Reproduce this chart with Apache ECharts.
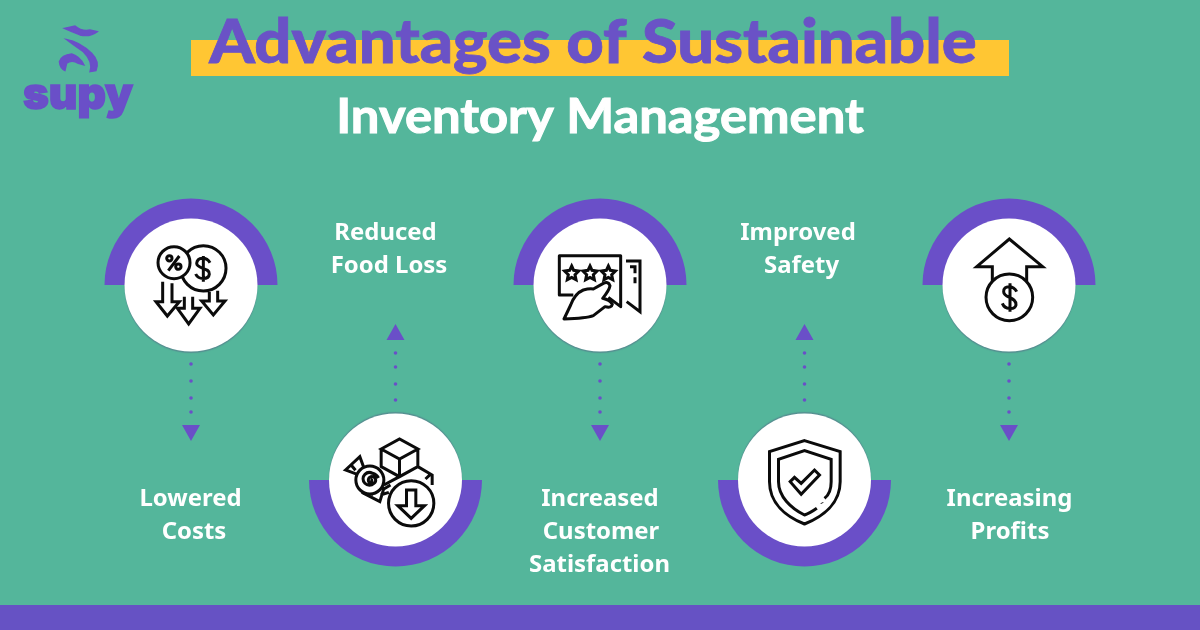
<!DOCTYPE html>
<html>
<head>
<meta charset="utf-8">
<title>Advantages of Sustainable Inventory Management</title>
<script src="https://cdn.jsdelivr.net/npm/echarts@6/dist/echarts.min.js"></script>
<style>
  html, body { margin: 0; padding: 0; background: #54b69b; }
  #main { width: 1200px; height: 630px; }
</style>
</head>
<body>
<div id="main"></div>
<script>
// data
const steps = ["Lowered Costs", "Reduced Food Loss", "Increased Customer Satisfaction", "Improved Safety", "Increasing Profits"];
const stepLevel = [1, 0, 1, 0, 1]; // 1 = top row, 0 = bottom row
const stepLines = [
  ["Lowered", "Costs"],
  ["Reduced", "Food Loss"],
  ["Increased", "Customer", "Satisfaction"],
  ["Improved", "Safety"],
  ["Increasing", "Profits"]
];
const titleLines = ["Advantages of Sustainable", "Inventory Management"];
const logoText = "supy";

// colours
const BG = "#54b69b";
const PURPLE = "#6a4fc8";
const YELLOW = "#ffc633";
const INK = "#0b0b0b";

// layout: the text lines are not quite centred under the discs in the original
const labelShift = [[-0.5, 3], [-10, -6.5], [0, 1, -0.5], [-6.5, -3], [0.5, 1]];

// icons are drawn at 3x around the hub centre
const icons = [
  { ox: 123, oy: 135, parts: [
    { d: "M160 17a68 68 0 1 0 0.1 0Z", fill: "#fff" },
    { d: "M72 20a48 48 0 1 0 0.1 0Z", fill: "#fff" },
    { d: "M88 48L55 92M58 47a8 8 0 1 0 0.1 0ZM85 72a8 8 0 1 0 0.1 0Z" },
    { d: "M180 68C170 50 142 50 140 70C140 88 180 82 178 102C176 120 145 120 137 102M160 48V125" },
    { d: "M178 155V183H155L190 225L225 183H203V152", fill: "#fff" },
    { d: "M38 125V185H18L52 228L88 185H66V130", fill: "#fff" },
    { d: "M103 170V205H82L116 252L150 205H128V170", fill: "#fff" }
  ]},
  { ox: 165, oy: 135, parts: [
    { d: "M122 42L177 12L232 42L177 72ZM122 42V95L177 125L232 95V42M177 72V125M232 95L275 120V150M255 132L272 116M122 95L177 125L130 150" },
    { d: "M15 105L58 65L70 98L50 118ZM30 88L45 106M70 175L118 200L130 160L105 150ZM92 180L108 165M125 165L150 150M120 180L145 172", fill: "#fff" },
    { d: "M88 93a42 42 0 1 0 0.1 0Z", fill: "#fff" },
    { d: "M90 133a5 5 0 1 1 -6 6a11 11 0 1 1 16 6a19 19 0 1 1 -4 -30a27 27 0 0 1 18 14" },
    { d: "M212 137a68 68 0 1 0 0.1 0Z", fill: "#fff" },
    { d: "M198 165H226V212H252L212 250L172 212H198Z", fill: "#fff" }
  ]},
  { ox: 150, oy: 120, parts: [
    { d: "M228 48H270V200L230 170M240 65H255V85M255 97V115" },
    { d: "M70 150H28V32H212V185L175 157", fill: "#fff", join: "round" },
    { d: "M65 63L71 76L86 78L75 89L78 104L65 97L52 104L55 89L44 78L59 76Z" },
    { d: "M120 63L126 76L141 78L130 89L133 104L120 97L107 104L110 89L99 78L114 76Z" },
    { d: "M175 63L181 76L196 78L185 89L188 104L175 97L162 104L165 89L154 78L169 76Z" },
    { d: "M42 222L62 180Q75 145 100 135Q118 130 130 132L160 115Q175 108 180 122Q178 135 158 160Q180 165 187 178Q185 190 165 185L130 212Q110 220 42 222Z", fill: "#fff", join: "round" }
  ]},
  { ox: 285, oy: 240, parts: [
    { d: "M285 122L392 155V245C392 310 340 350 285 372C230 350 180 310 180 245V155Z" },
    { d: "M345 295C358 285 365 265 365 245V178L285 152L207 178V245C207 290 245 325 285 345C300 340 312 332 322 325M337 308L338 310" },
    { d: "M275 283L242 245L255 232L275 250L315 210L330 225Z" }
  ]},
  { ox: 282, oy: 285, parts: [
    { d: "M232 275V230H185L283 147L383 230H335V280" },
    { d: "M283 252a70 70 0 1 0 0.1 0Z", fill: "#fff" },
    { d: "M305 305C295 285 265 285 266 305C266 325 305 320 303 345C300 360 270 360 262 340M285 280V365" }
  ]}
];

const logoMark = "M193 85L225 78Q245 95 270 90L292 95Q270 112 240 105Q215 95 193 85Z"
  + "M198 118Q240 125 275 160Q300 185 288 212L270 215Q280 185 250 155Q220 135 198 118Z"
  + "M178 185Q185 165 215 162Q240 170 252 195L235 190Q215 178 200 190L195 212Q180 205 178 185Z";

function renderStep(params, api) {
  const i = api.value(0);
  const level = api.value(1);
  const pt = api.coord([i, level]);
  const cx = pt[0], cy = pt[1];
  const up = level === 1;
  const dir = up ? 1 : -1;
  const children = [];

  // half ring behind the white disc
  children.push({
    type: "sector",
    shape: { cx, cy, r0: 0, r: 86.5, startAngle: up ? Math.PI : 0, endAngle: up ? Math.PI * 2 : Math.PI },
    style: { fill: PURPLE }
  });
  children.push({
    type: "circle",
    shape: { cx, cy, r: 66.5 },
    style: { fill: "#fff", shadowColor: "rgba(90,85,130,0.4)", shadowBlur: 1, shadowOffsetY: 1.5 * dir }
  });

  // icon
  const ic = icons[i];
  children.push({
    type: "group",
    x: cx - ic.ox / 3,
    y: cy - ic.oy / 3,
    scaleX: 1 / 3,
    scaleY: 1 / 3,
    children: ic.parts.map((p) => ({
      type: "path",
      shape: { pathData: p.d },
      style: { fill: p.fill || "none", stroke: INK, lineWidth: 9, lineJoin: p.join || "miter" }
    }))
  });

  // dotted arrow
  const dots = up ? [79, 96, 113, 127] : [-80, -96, -113, -127];
  dots.forEach((d) => {
    children.push({ type: "circle", shape: { cx, cy: cy + d, r: 1.8 }, style: { fill: PURPLE } });
  });
  const tipY = up ? cy + 156 : cy - 156;
  const baseY = up ? cy + 140 : cy - 140;
  children.push({
    type: "polygon",
    shape: { points: [[cx - 9, baseY], [cx + 9, baseY], [cx, tipY]] },
    style: { fill: PURPLE }
  });

  // label
  const labelY = up ? cy + 214 : cy - 247;
  stepLines[i].forEach((t, k) => {
    children.push({
      type: "text",
      x: cx + labelShift[i][k],
      y: labelY + k * 33,
      scaleX: 1.04,
      style: { text: t, fill: "#fff", font: "700 23px 'Noto Sans'", align: "center", verticalAlign: "middle" }
    });
  });

  return { type: "group", children };
}

function renderLogo() {
  return {
    type: "group",
    scaleX: 1 / 3,
    scaleY: 1 / 3,
    children: [{ type: "path", shape: { pathData: logoMark }, style: { fill: PURPLE, stroke: PURPLE, lineWidth: 4 } }]
  };
}

const chart = echarts.init(document.getElementById("main"));
chart.setOption({
  backgroundColor: BG,
  animation: false,
  tooltip: { show: false },
  grid: { left: 88.75, width: 1022.5, top: 285, height: 195 },
  xAxis: { type: "category", data: steps, show: false },
  yAxis: { type: "value", min: 0, max: 1, show: false },
  graphic: [
    { type: "rect", shape: { x: 191, y: 40, width: 818, height: 36 }, style: { fill: YELLOW }, z: 0 },
    { type: "rect", shape: { x: 0, y: 605, width: 1200, height: 25 }, style: { fill: "#6652c4" }, z: 0 },
    { type: "text", x: 593, y: 44, scaleX: 1.085, z: 1, style: { text: titleLines[0], fill: "#6a52c6", stroke: "#6a52c6", lineWidth: 0.8, font: "900 60px Lato", align: "center", verticalAlign: "middle" } },
    { type: "text", x: 600, y: 118, scaleX: 1.08, z: 1, style: { text: titleLines[1], fill: "#fff", stroke: "#fff", lineWidth: 1, font: "700 47px Lato", align: "center", verticalAlign: "middle" } },
    { type: "text", x: 78, y: 96, z: 1, style: { text: logoText, fill: PURPLE, stroke: PURPLE, lineWidth: 1.5, font: "900 44px Inter", align: "center", verticalAlign: "middle" } }
  ],
  series: [
    {
      type: "custom",
      coordinateSystem: "cartesian2d",
      clip: false,
      silent: true,
      data: stepLevel.map((v, i) => [i, v]),
      renderItem: renderStep
    },
    {
      type: "custom",
      coordinateSystem: "none",
      silent: true,
      data: [0],
      renderItem: renderLogo
    }
  ]
});
</script>
</body>
</html>
